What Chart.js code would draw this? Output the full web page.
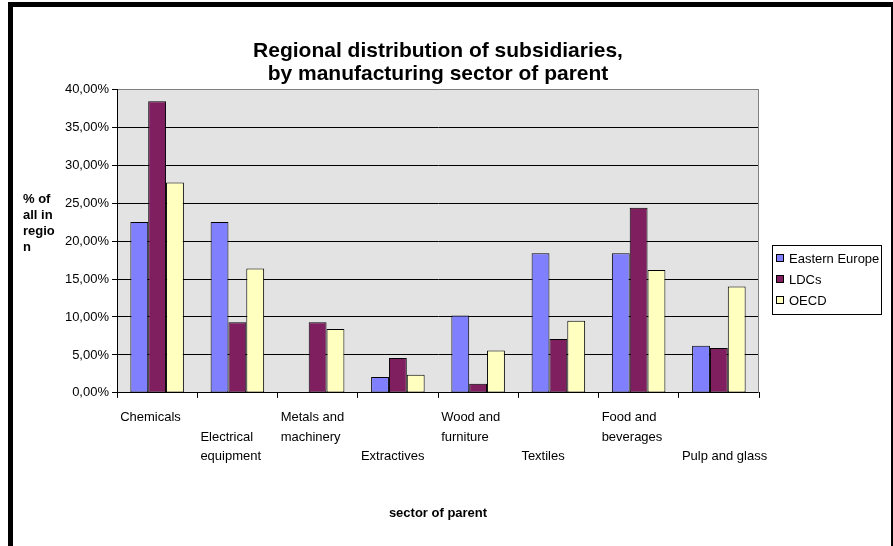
<!DOCTYPE html>
<html>
<head>
<meta charset="utf-8">
<title>Regional distribution of subsidiaries</title>
<script src="https://cdn.jsdelivr.net/npm/chart.js@4.4.0/dist/chart.umd.min.js"></script>
<style>
  html, body { margin: 0; padding: 0; background: #fff; overflow: hidden; }
  #wrap { position: relative; width: 893px; height: 546px; }
  #frame {
    position: absolute; left: 8px; top: 2px; width: 878px; height: 600px;
    border: 5px solid #000; border-bottom: none; pointer-events: none;
  }
</style>
</head>
<body>
<div id="wrap">
  <canvas id="chart" width="893" height="546"></canvas>
  <div id="frame"></div>
</div>
<script>
// sectors of the parent company; blank lines push a label down a row
var sectors = [
    ['Chemicals'],
    ['', 'Electrical', 'equipment'],
    ['Metals and', 'machinery'],
    ['', '', 'Extractives'],
    ['Wood and', 'furniture'],
    ['', '', 'Textiles'],
    ['Food and', 'beverages'],
    ['', '', 'Pulp and glass']
];

// share of all subsidiaries in each region (%)
var easternEurope = [22.5, 22.5, 0, 2.1, 10.2, 18.4, 18.4, 6.2];
var ldcs = [38.4, 9.3, 9.3, 4.6, 1.2, 7.1, 24.4, 5.9];
var oecd = [27.7, 16.4, 8.4, 2.4, 5.6, 9.5, 16.2, 14.0];

var regionNames = ['Eastern Europe', 'LDCs', 'OECD'];
var regionColors = ['#8080ff', '#7f1f5f', '#ffffc0'];

var titleLines = ['Regional distribution of subsidiaries,', 'by manufacturing sector of parent'];
var yTitleLines = ['% of', 'all in', 'regio', 'n'];
var xTitle = 'sector of parent';

var yMax = 40;
var yStep = 5;

function pct(v) {
    return v.toFixed(2).replace('.', ',') + '%';
}

function bar_set(label, values, color) {
    return {
        label: label,
        data: values,
        backgroundColor: color,
        borderColor: '#000',
        borderWidth: 1,
        borderSkipped: false,
        categoryPercentage: 0.667,
        barPercentage: 1.0
    };
}

// grey plot background plus the grey right edge
var plotArea = {
    id: 'plotArea',
    beforeDraw: function(chart) {
        var a = chart.chartArea, ctx = chart.ctx;
        ctx.save();
        ctx.fillStyle = '#e3e3e3';
        ctx.fillRect(a.left, a.top, a.right - a.left, a.bottom - a.top);
        ctx.restore();
    },
    beforeDatasetsDraw: function(chart) {
        var a = chart.chartArea, ctx = chart.ctx;
        ctx.save();
        ctx.strokeStyle = '#808080';
        ctx.lineWidth = 1;
        ctx.beginPath();
        ctx.moveTo(a.right - 0.5, a.top);
        ctx.lineTo(a.right - 0.5, a.bottom);
        ctx.stroke();
        ctx.restore();
    }
};

// wrapped, horizontal y-axis title at the far left
var yTitle = {
    id: 'yTitle',
    afterDraw: function(chart) {
        var ctx = chart.ctx;
        ctx.save();
        ctx.font = 'bold 13px Arial';
        ctx.fillStyle = '#000';
        ctx.textAlign = 'left';
        ctx.textBaseline = 'middle';
        for (var i = 0; i < yTitleLines.length; i++) {
            ctx.fillText(yTitleLines[i], 23, 199 + i * 16);
        }
        ctx.restore();
    }
};

// boxed legend to the right of the plot
var legendBox = {
    id: 'legendBox',
    afterDraw: function(chart) {
        var ctx = chart.ctx, a = chart.chartArea;
        var x = Math.round(a.right) + 13, y = Math.round(a.top) + 156, w = 109, h = 69;
        ctx.save();
        ctx.fillStyle = '#fff';
        ctx.fillRect(x, y, w, h);
        ctx.strokeStyle = '#000';
        ctx.lineWidth = 1;
        ctx.strokeRect(x + 0.5, y + 0.5, w, h);
        ctx.font = '13px Arial';
        ctx.textAlign = 'left';
        ctx.textBaseline = 'middle';
        chart.data.datasets.forEach(function(ds, i) {
            var cy = y + 13 + i * 21;
            ctx.fillStyle = ds.backgroundColor;
            ctx.fillRect(x + 4.5, cy - 3.5, 7, 7);
            ctx.strokeRect(x + 4.5, cy - 3.5, 7, 7);
            ctx.fillStyle = '#000';
            ctx.fillText(ds.label, x + 17, cy + 1);
        });
        ctx.restore();
    }
};

var ctx = document.getElementById('chart').getContext('2d');
var myChart = new Chart(ctx, {
    type: 'bar',
    data: {
        labels: sectors,
        datasets: [
            bar_set(regionNames[0], easternEurope, regionColors[0]),
            bar_set(regionNames[1], ldcs, regionColors[1]),
            bar_set(regionNames[2], oecd, regionColors[2])
        ]
    },
    options: {
        responsive: false,
        animation: false,
        layout: { padding: { top: 30, left: 0, right: 134, bottom: 25 } },
        plugins: {
            legend: { display: false },
            tooltip: { enabled: false },
            title: {
                display: true,
                fullSize: false,
                text: titleLines,
                color: '#000',
                font: { family: 'Arial', size: 21, weight: 'bold', lineHeight: 1.1 },
                padding: { top: 10, bottom: 3 }
            }
        },
        scales: {
            x: {
                grid: {
                    offset: true,
                    drawOnChartArea: false,
                    tickLength: 5,
                    color: '#000'
                },
                border: { color: '#000', width: 1 },
                ticks: {
                    color: '#000',
                    font: { family: 'Arial', size: 13, lineHeight: 1.5 },
                    autoSkip: false,
                    maxRotation: 0,
                    minRotation: 0,
                    align: 'start',
                    labelOffset: -37,
                    padding: 10
                },
                title: {
                    display: true,
                    text: xTitle,
                    color: '#000',
                    font: { family: 'Arial', size: 13, weight: 'bold' },
                    padding: { top: 29, bottom: 0 }
                }
            },
            y: {
                min: 0,
                max: yMax,
                afterFit: function(scale) { scale.width = 117; },
                grid: {
                    color: function(c) { return c.tick && c.tick.value === yMax ? '#808080' : '#000'; },
                    tickColor: '#000',
                    tickLength: 5
                },
                border: { color: '#000', width: 1 },
                ticks: {
                    stepSize: yStep,
                    color: '#000',
                    padding: 3,
                    font: { family: 'Arial', size: 13 },
                    callback: function(v) { return pct(v); }
                }
            }
        }
    },
    plugins: [plotArea, yTitle, legendBox]
});
</script>
</body>
</html>
